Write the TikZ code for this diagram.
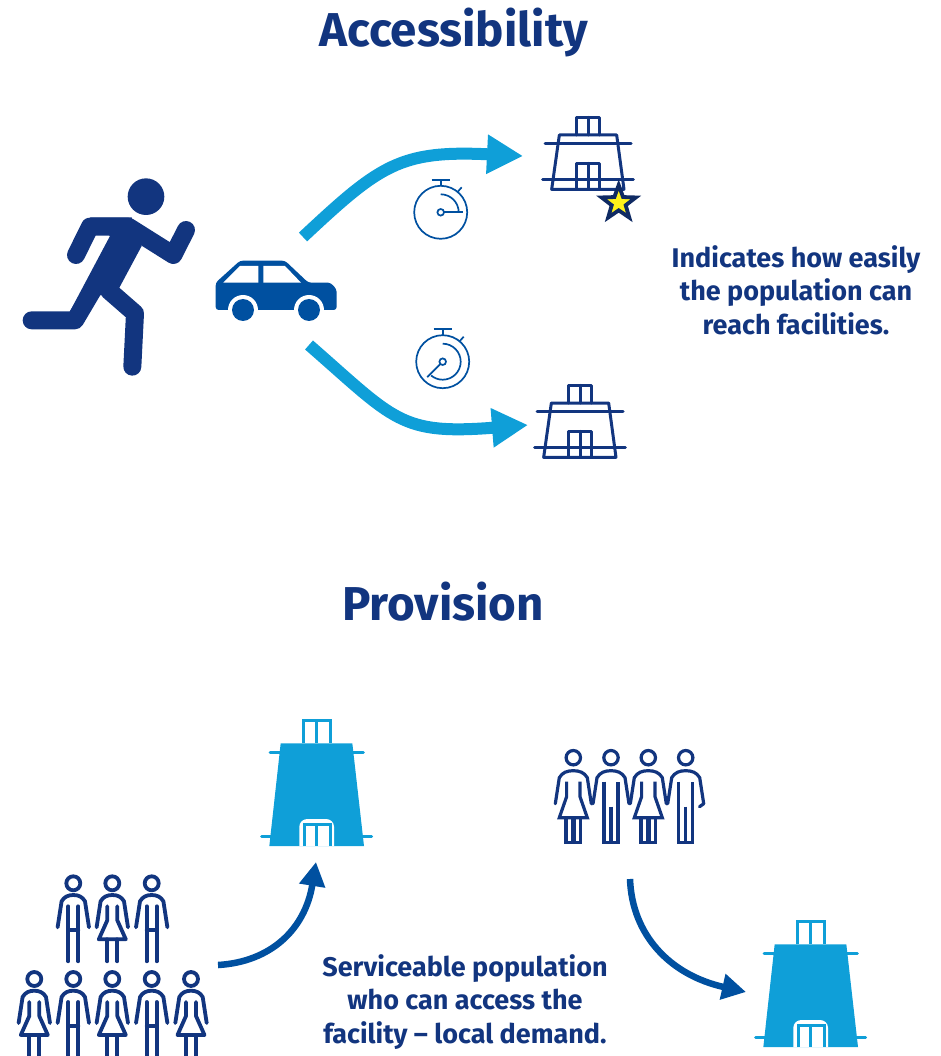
\documentclass[tikz,border=0pt]{standalone}
\usepackage{fontspec}
\setmainfont{Fira Sans}
\usetikzlibrary{arrows.meta,shapes.geometric}
\definecolor{navy}{HTML}{12357F}
\definecolor{midblue}{HTML}{0050A0}
\definecolor{cyanblue}{HTML}{0F9FD8}
\definecolor{staryellow}{HTML}{FFF21A}
\definecolor{stardark}{HTML}{0F2A63}
\tikzset{
  title/.style={font=\bfseries\fontsize{47.5}{50}\selectfont,text=navy,anchor=base,inner sep=0pt},
  caption/.style={font=\bfseries\fontsize{27}{33.4}\selectfont,text=navy,align=center,anchor=center,inner sep=0pt},
  bigflow/.style={cyanblue,line width=12pt,-{Triangle[length=36pt,width=37pt]}},
  smallflow/.style={midblue,line width=6.5pt,-{Triangle[length=24pt,width=25pt]}},
  watch/.style={midblue,line width=1.7pt},
  figA/.style={navy,line width=3.2pt,line join=miter},
  figB/.style={navy,line width=3.8pt,line cap=round,line join=round},
  outlined/.style={navy,line width=3pt,line cap=round},
  pics/closedman/.style={code={\begin{scope}[yscale=-1]
    \draw[figA] (0,0) circle (7.2);
    \draw[figA,line cap=round] (-18,46) -- (-14,20) to[out=-60,in=180] (0,13) to[out=0,in=-120] (14,20) -- (18,46);
    \draw[figA] (-7,24) -- (-7,85) -- (7,85) -- (7,24) (0,49) -- (0,85);
  \end{scope}}},
  pics/closedwoman/.style={code={\begin{scope}[yscale=-1]
    \draw[figA] (0,0) circle (7.2);
    \draw[figA,line cap=round] (-18,46) -- (-14,20) to[out=-60,in=180] (0,13) to[out=0,in=-120] (14,20) -- (18,46);
    \draw[figA] (-6.7,24) -- (-6.7,39) -- (-14,60) -- (14,60) -- (6.7,39) -- (6.7,24);
    \draw[figA] (-7.3,60) -- (-7.3,85) -- (-0.7,85) -- (-0.7,60) (0.7,60) -- (0.7,85) -- (7.3,85) -- (7.3,60);
  \end{scope}}},
  pics/openman/.style={code={\begin{scope}[yscale=-1]
    \draw[figB] (0,0) circle (7);
    \draw[figB] (-15.7,44) -- (-11.7,18) to[out=-60,in=180] (0,11.7) to[out=0,in=-120] (11.7,18) -- (15.7,44);
    \draw[figB] (-5,23) -- (-5,78) (5,23) -- (5,78) (-5,47) -- (5,47);
  \end{scope}}},
  pics/openwoman/.style={code={\begin{scope}[yscale=-1]
    \draw[figB] (0,0) circle (7);
    \draw[figB] (-15.7,44) -- (-11.7,18) to[out=-60,in=180] (0,11.7) to[out=0,in=-120] (11.7,18) -- (15.7,44);
    \draw[figB] (-5,23) -- (-5,37) -- (-13.5,56) -- (13.5,56) -- (5,37) -- (5,23);
    \draw[figB] (-5,56) -- (-5,78) (5,56) -- (5,78);
  \end{scope}}},
  pics/plainhall/.style={code={
    \begin{scope}[yscale=-1,scale=1/3]
    \draw[outlined,line join=round] (170,105) -- (170,52) -- (238,52) -- (238,105) (204,52) -- (204,105);
    \draw[outlined,line join=round] (118,105) -- (290,105) -- (312,268) -- (95,268) -- cycle;
    \draw[outlined] (75,130) -- (333,130) (68,238) -- (340,238);
    \draw[outlined,line join=round] (170,268) -- (170,190) -- (238,190) -- (238,268) (204,190) -- (204,268);
    \end{scope}
  }},
  pics/solidhall/.style={code={
    \begin{scope}[yscale=-1,scale=1/3]
    \draw[cyanblue,line width=3pt] (160,100) -- (160,32) -- (240,32) -- (240,100) (200,32) -- (200,100);
    \draw[cyanblue,line width=3pt,line cap=round] (60,128) -- (340,128) (35,380) -- (365,380);
    \fill[cyanblue] (92,100) -- (307,100) -- (342,408) -- (58,408) -- cycle;
    \fill[white] (148,408) -- (148,350) to[out=-90,in=180] (172,327) -- (228,327) to[out=0,in=-90] (252,350) -- (252,408) -- cycle;
    \draw[cyanblue,line width=3pt] (162,408) -- (162,342) -- (240,342) -- (240,408) (200,342) -- (200,408);
    \end{scope}
  }},
}
\begin{document}
\begin{tikzpicture}[x=1pt,y=1pt,yscale=-1]
\useasboundingbox (0,0) rectangle (941,1056);
% titles
\node[title] (titleA) at (453.5,47) {Accessibility};
\node[title] (titleB) at (443,620) {Provision};
% runner
\begin{scope}[shift={(10,170)},scale=1/3]
  \fill[navy] (408,80) circle (55);
  \fill[navy] (300,198) -- (240,142) -- (365,142) -- (395,228) -- (327,355) -- (267,377) -- (180,424) -- cycle;
  \draw[navy,line width=18pt,line cap=round,line join=round] (198,255) -- (240,170) -- (355,170) -- (490,255) -- (528,180);
  \draw[navy,line width=18pt,line cap=round,line join=round] (65,451) -- (195,451) -- (290,290);
  \draw[navy,line width=18pt,line cap=round,line join=round] (367,590) -- (375,430) -- (297,362);
  % car
  \fill[midblue,rounded corners=3pt] (617,420) -- (617,338) -- (690,272) -- (825,272) -- (895,338) -- (945,338) to[out=0,in=-90] (980,375) -- (980,420) -- cycle;
  \fill[white] (640,338) -- (690,288) -- (745,288) -- (745,338) -- cycle;
  \fill[white] (760,288) -- (825,288) -- (873,338) -- (760,338) -- cycle;
  \fill[white] (699,420) circle (45) (897,420) circle (45);
  \fill[midblue] (699,420) circle (33) (897,420) circle (33);
\end{scope}
% upper route
\coordinate (routeAstart) at (303,237);
\coordinate (routeAend) at (523,156);
\draw[bigflow] (routeAstart) .. controls (380,165) and (400,150) .. (routeAend);
\coordinate (routeBstart) at (309,345);
\coordinate (routeBend) at (528,425);
\draw[bigflow] (routeBstart) .. controls (395,420) and (400,435) .. (routeBend);
% halls
\pic at (520,100) {plainhall};
\pic at (512,368) {plainhall};
\node[star,star points=5,star point ratio=2.45,draw=stardark,fill=staryellow,line width=3.8pt,minimum size=36pt,inner sep=0pt] (award) at (618.7,203) {};
% stopwatches
\begin{scope}[shift={(440.7,212.3)}]
  \draw[watch] (0,0) circle (26.5);
  \draw[watch] (-9,-32.5) -- (9,-32.5) (0,-32.5) -- (0,-26.5);
  \draw[watch] (17,-20.5) -- (21,-25);
  \draw[watch] (0,0) circle (3.3);
  \draw[watch] (3.3,0) -- (22,0);
  \draw[watch] (0,-18) arc[start angle=-90,end angle=0,radius=18];
\end{scope}
\begin{scope}[shift={(442.7,361.7)}]
  \draw[watch] (0,0) circle (26.5);
  \draw[watch] (-9,-32.5) -- (9,-32.5) (0,-32.5) -- (0,-26.5);
  \draw[watch] (17,-20.5) -- (21,-25);
  \draw[watch] (0,0) circle (3.3);
  \draw[watch] (-2.4,2.4) -- (-15.5,15.5);
  \draw[watch] (0,-18) arc[start angle=-90,end angle=130,radius=18];
\end{scope}
% captions
\node[caption] (capA) at (796,290) {Indicates how easily\\the population can\\reach facilities.};
\node[caption] (capB) at (465,1002) {Serviceable population\\who can access the\\facility – local demand.};
% provision halls
\pic at (250,710) {solidhall};
\pic at (744,911) {solidhall};
% people right
\pic at (573.3,757.7) {closedwoman};
\pic at (611,757.7) {closedman};
\pic at (648.3,757.7) {closedwoman};
\pic at (685.7,757.7) {closedman};
\coordinate (hookA) at (703.7,803.7);
\coordinate (hookB) at (699.5,806.7);
\draw[figA,line cap=round] (hookA) -- (hookB);
% people left
\pic at (73.3,883.3) {openman};
\pic at (112.3,883.3) {openwoman};
\pic at (151.7,883.3) {openman};
\pic at (34.3,979) {openwoman};
\pic at (73.3,979) {openman};
\pic at (112.3,979) {openwoman};
\pic at (151.7,979) {openman};
\pic at (191,979) {openwoman};
% provision arrows
\coordinate (flowAstart) at (218,965);
\coordinate (flowAend) at (316,862);
\draw[smallflow] (flowAstart) .. controls (270,962) and (305,930) .. (flowAend);
\coordinate (flowBstart) at (630,879);
\coordinate (flowBend) at (746,992);
\draw[smallflow] (flowBstart) .. controls (632,935) and (670,975) .. (flowBend);
\end{tikzpicture}
\end{document}
